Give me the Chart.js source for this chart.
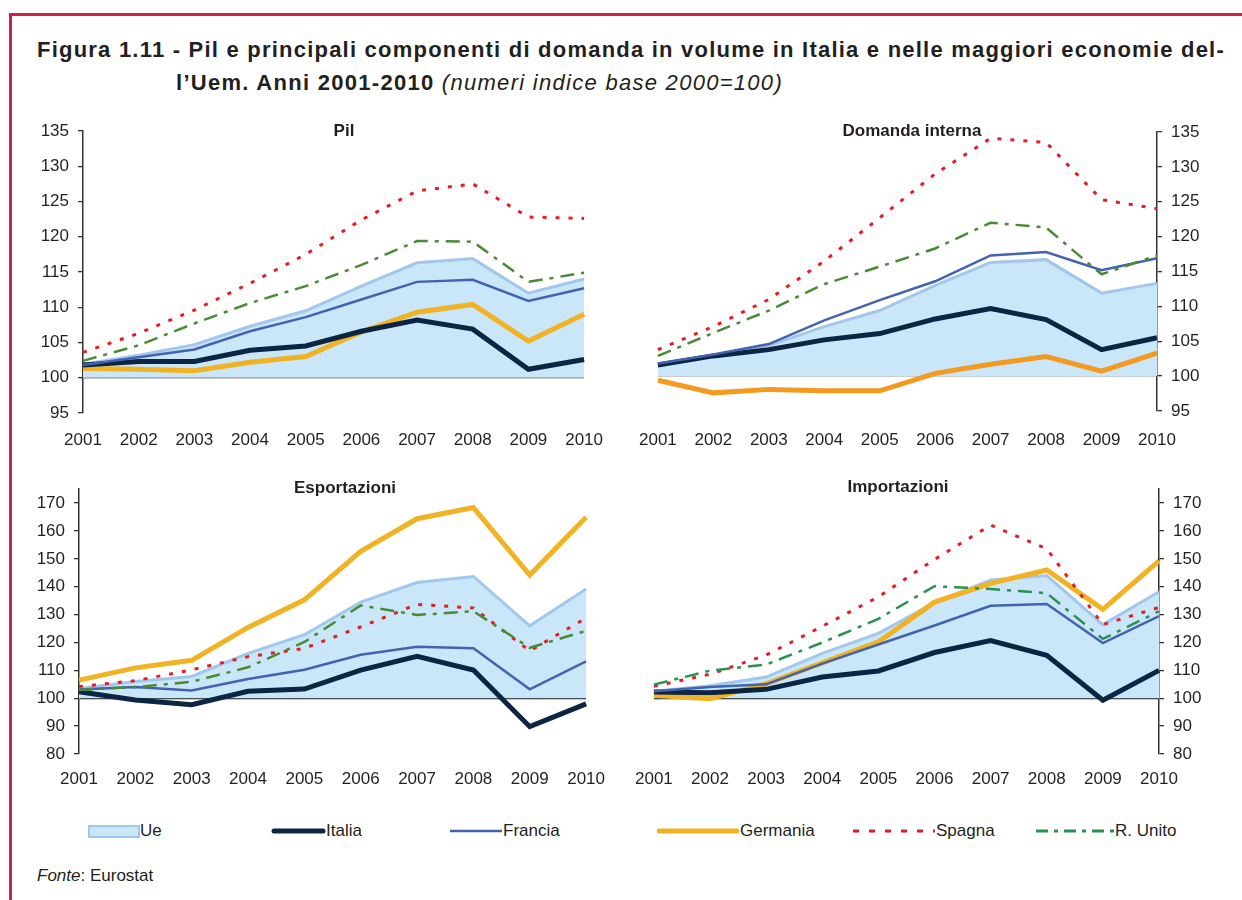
<!DOCTYPE html>
<html lang="it">
<head>
<meta charset="utf-8">
<title>Figura 1.11</title>
<script src="https://cdn.jsdelivr.net/npm/chart.js@4.4.1/dist/chart.umd.min.js"></script>
<style>
    body { margin: 0; background: #fff; font-family: "Liberation Sans", Arial, sans-serif; color: #231f20; }
    #page { position: relative; width: 1242px; height: 900px; overflow: hidden; }
    .frame-top { position: absolute; left: 9px; top: 13px; width: 1233px; height: 3px; background: #d31f4f; }
    .frame-left { position: absolute; left: 9px; top: 13px; width: 3px; height: 887px; background: #d31f4f; }
    .title { position: absolute; font-size: 22px; font-weight: bold; line-height: 26px; white-space: nowrap; }
    .title i { font-weight: normal; }
    .panel-title { position: absolute; font-size: 17px; font-weight: bold; transform: translate(-50%, -50%); white-space: nowrap; }
    canvas { position: absolute; }
    .legend-item { position: absolute; top: 821px; height: 20px; display: flex; align-items: center; font-size: 17px; }
    .legend-item svg { display: block; }
    .fonte { position: absolute; left: 37px; top: 866px; font-size: 17px; }
</style>
</head>
<body>
<div id="page">
    <div class="frame-top"></div>
    <div class="frame-left"></div>

    <div class="title" id="titleLine1" style="left:37px; top:37px;">Figura 1.11 - Pil e principali componenti di domanda in volume in Italia e nelle maggiori economie del-</div>
    <div class="title" id="titleLine2" style="left:176px; top:70px;">l’Uem. Anni 2001-2010 <i>(numeri indice base 2000=100)</i></div>

    <canvas id="chartPil" width="600" height="350" style="left:20px; top:110px;"></canvas>
    <canvas id="chartDomanda" width="620" height="350" style="left:620px; top:110px;"></canvas>
    <canvas id="chartEsport" width="600" height="330" style="left:20px; top:470px;"></canvas>
    <canvas id="chartImport" width="620" height="330" style="left:620px; top:470px;"></canvas>

    <div class="panel-title" style="left:344px; top:131px;">Pil</div>
    <div class="panel-title" style="left:912px; top:131px;">Domanda interna</div>
    <div class="panel-title" style="left:345px; top:488px;">Esportazioni</div>
    <div class="panel-title" style="left:898px; top:487px;">Importazioni</div>

    <div id="legend"></div>

    <div class="fonte"><i>Fonte</i>: Eurostat</div>
</div>

<script>
const years = ['2001', '2002', '2003', '2004', '2005', '2006', '2007', '2008', '2009', '2010'];
const seriesNames = ['Ue', 'Italia', 'Francia', 'Germania', 'Spagna', 'R. Unito'];
const ticksTop = [95, 100, 105, 110, 115, 120, 125, 130, 135];
const ticksBottom = [80, 90, 100, 110, 120, 130, 140, 150, 160, 170];

// Pil
const pilUe = [101.9, 103.2, 104.7, 107.3, 109.5, 113.0, 116.3, 116.9, 112.0, 114.0];
const pilItalia = [101.8, 102.3, 102.3, 103.9, 104.5, 106.6, 108.2, 106.9, 101.2, 102.6];
const pilFrancia = [101.8, 102.9, 104.0, 106.6, 108.6, 111.1, 113.6, 113.9, 110.9, 112.7];
const pilGermania = [101.3, 101.2, 101.0, 102.2, 103.0, 106.5, 109.3, 110.4, 105.2, 109.0];
const pilSpagna = [103.6, 106.3, 109.6, 113.4, 117.5, 122.4, 126.5, 127.5, 122.8, 122.6];
const pilRegnoUnito = [102.4, 104.6, 107.7, 110.6, 113.0, 116.0, 119.4, 119.3, 113.6, 114.9];

// Domanda interna
const domUe = [101.5, 102.9, 104.4, 107.1, 109.4, 113.0, 116.3, 116.7, 111.9, 113.3];
const domItalia = [101.6, 102.9, 103.8, 105.2, 106.1, 108.2, 109.7, 108.1, 103.8, 105.5];
const domFrancia = [101.8, 103.1, 104.6, 108.0, 110.9, 113.6, 117.3, 117.8, 115.2, 116.9];
const domGermania = [99.4, 97.6, 98.1, 97.9, 97.9, 100.4, 101.7, 102.8, 100.7, 103.3];
const domSpagna = [103.8, 107.1, 111.0, 116.5, 122.7, 129.0, 134.1, 133.5, 125.3, 124.0];
const domRegnoUnito = [102.9, 106.2, 109.4, 113.2, 115.7, 118.3, 122.0, 121.3, 114.6, 117.3];

// Esportazioni
const espUe = [103.5, 106.0, 107.8, 116.1, 122.8, 134.5, 141.5, 143.7, 126.0, 139.2];
const espItalia = [102.3, 99.4, 97.7, 102.5, 103.3, 110.1, 115.0, 110.1, 89.8, 98.0];
const espFrancia = [103.1, 104.0, 102.8, 106.9, 110.2, 115.6, 118.5, 117.9, 103.2, 113.2];
const espGermania = [106.5, 110.9, 113.6, 125.4, 135.3, 152.7, 164.4, 168.4, 144.2, 164.9];
const espSpagna = [104.2, 106.3, 110.2, 114.9, 117.9, 125.6, 133.7, 132.4, 117.0, 128.8];
const espRegnoUnito = [103.0, 104.0, 105.9, 111.1, 120.2, 133.3, 129.9, 131.2, 118.1, 124.2];

// Importazioni
const impUe = [102.5, 104.5, 107.6, 116.1, 123.3, 134.3, 142.4, 144.0, 126.4, 138.2];
const impItalia = [102.2, 102.0, 103.2, 107.6, 109.8, 116.4, 120.7, 115.4, 99.3, 110.0];
const impFrancia = [102.5, 104.0, 105.0, 112.4, 119.3, 126.1, 133.2, 133.8, 119.8, 129.5];
const impGermania = [101.1, 99.8, 105.2, 112.7, 120.2, 134.5, 141.2, 146.0, 131.9, 149.3];
const impSpagna = [104.3, 108.6, 115.5, 125.8, 136.4, 149.8, 162.1, 153.6, 126.4, 132.6];
const impRegnoUnito = [104.9, 109.9, 112.1, 120.0, 128.5, 140.2, 139.2, 137.7, 121.3, 131.2];

const TEXT = '#231f20';
const COLORS = {
    ueLine: '#a2c7ec',
    ueFill: '#c9e7f8',
    italia: '#0c2542',
    francia: '#4363b0',
    germania: '#f1b323',
    spagna: '#e41e26',
    regnoUnito: '#4a8a35'
};
const DASH_SPAGNA = [4, 9];
const DASH_UK = [14, 7, 4, 7];

// titolo giustificato come nella figura originale
function fitWidth(id, target) {
    const el = document.getElementById(id);
    const chars = el.textContent.length;
    const w = el.getBoundingClientRect().width;
    el.style.letterSpacing = ((target - w) / chars) + 'px';
}
fitWidth('titleLine1', 1188);
fitWidth('titleLine2', 607);

function buildDatasets(values, opts = {}) {
    const [ue, italia, francia, germania, spagna, uk] = values;
    return [
        { label: seriesNames[0], data: ue, borderColor: COLORS.ueLine, borderWidth: 3,
          backgroundColor: COLORS.ueFill, fill: { value: 100 }, order: 10 },
        { label: seriesNames[1], data: italia, borderColor: COLORS.italia, borderWidth: 5, order: 5 },
        { label: seriesNames[2], data: francia, borderColor: COLORS.francia, borderWidth: 2.5, order: 4 },
        { label: seriesNames[3], data: germania, borderColor: opts.germania || COLORS.germania, borderWidth: 5, order: 6 },
        { label: seriesNames[4], data: spagna, borderColor: COLORS.spagna, borderWidth: 3,
          borderDash: DASH_SPAGNA, order: 2 },
        { label: seriesNames[5], data: uk, borderColor: opts.uk || COLORS.regnoUnito, borderWidth: 2.5,
          borderDash: DASH_UK, order: 1 }
    ];
}

function makePanel(id, values, p) {
    return new Chart(document.getElementById(id), {
        type: 'line',
        data: { labels: years, datasets: buildDatasets(values, p.colors) },
        options: {
            responsive: false,
            animation: false,
            layout: { padding: p.padding },
            plugins: { legend: { display: false }, tooltip: { enabled: false } },
            elements: { point: { radius: 0 }, line: { tension: 0 } },
            scales: {
                x: {
                    grid: { display: false, drawTicks: false },
                    border: { display: false },
                    ticks: { color: TEXT, font: { size: 17, family: 'Liberation Sans' }, padding: p.xPad,
                             maxRotation: 0, autoSkip: false },
                    afterFit: s => { s.height = p.xHeight; }
                },
                y: {
                    position: p.yPos,
                    min: p.min,
                    max: p.max,
                    ticks: { color: TEXT, font: { size: 17, family: 'Liberation Sans' }, padding: 9 },
                    grid: {
                        color: c => (c.tick && c.tick.value === 100) ? '#1b1b1b' : 'rgba(0,0,0,0)',
                        tickColor: '#333',
                        tickLength: 5,
                        lineWidth: 1.3
                    },
                    border: { display: true, color: '#333', width: 1.5 },
                    afterBuildTicks: s => { s.ticks = p.ticks.map(v => ({ value: v })); },
                    afterFit: s => { s.width = p.yWidth; }
                }
            }
        }
    });
}

makePanel('chartPil',
    [pilUe, pilItalia, pilFrancia, pilGermania, pilSpagna, pilRegnoUnito],
    { min: 95, max: 135, ticks: ticksTop, yPos: 'left', yWidth: 63, xHeight: 47, xPad: 17,
      padding: { top: 21, right: 23, bottom: 0, left: 0 } });

makePanel('chartDomanda',
    [domUe, domItalia, domFrancia, domGermania, domSpagna, domRegnoUnito],
    { min: 95, max: 135, ticks: ticksTop, yPos: 'right', yWidth: 83, xHeight: 49, xPad: 19,
      padding: { top: 22, right: 0, bottom: 0, left: 33 }, colors: { germania: '#f39a20' } });

makePanel('chartEsport',
    [espUe, espItalia, espFrancia, espGermania, espSpagna, espRegnoUnito],
    { min: 80, max: 175, ticks: ticksBottom, yPos: 'left', yWidth: 59, xHeight: 46, xPad: 15,
      padding: { top: 19, right: 31, bottom: 0, left: 0 } });

makePanel('chartImport',
    [impUe, impItalia, impFrancia, impGermania, impSpagna, impRegnoUnito],
    { min: 80, max: 175, ticks: ticksBottom, yPos: 'right', yWidth: 81, xHeight: 46, xPad: 15,
      padding: { top: 18, right: 0, bottom: 0, left: 29 }, colors: { uk: '#2a9152' } });

// legenda comune
const legendSamples = [
    { x: 88, w: 52, svg: '<rect x="1" y="5" width="50" height="11" fill="' + COLORS.ueFill + '" stroke="' + COLORS.ueLine + '" stroke-width="2"/>' },
    { x: 271, w: 55, svg: '<line x1="3" y1="10" x2="52" y2="10" stroke="' + COLORS.italia + '" stroke-width="5" stroke-linecap="round"/>' },
    { x: 450, w: 53, svg: '<line x1="0" y1="10" x2="52" y2="10" stroke="' + COLORS.francia + '" stroke-width="2.5"/>' },
    { x: 657, w: 83, svg: '<line x1="2" y1="10" x2="80" y2="10" stroke="' + COLORS.germania + '" stroke-width="5" stroke-linecap="round"/>' },
    { x: 853, w: 83, svg: '<line x1="0" y1="10" x2="82" y2="10" stroke="' + COLORS.spagna + '" stroke-width="3" stroke-dasharray="6 10"/>' },
    { x: 1036, w: 79, svg: '<line x1="0" y1="10" x2="78" y2="10" stroke="#2a9152" stroke-width="3" stroke-dasharray="12 6 4 6"/>' }
];

const legendEl = document.getElementById('legend');
legendSamples.forEach((s, i) => {
    const item = document.createElement('div');
    item.className = 'legend-item';
    item.style.left = s.x + 'px';
    item.innerHTML = '<svg width="' + s.w + '" height="20">' + s.svg + '</svg><span>' + seriesNames[i] + '</span>';
    legendEl.appendChild(item);
});
</script>
</body>
</html>
